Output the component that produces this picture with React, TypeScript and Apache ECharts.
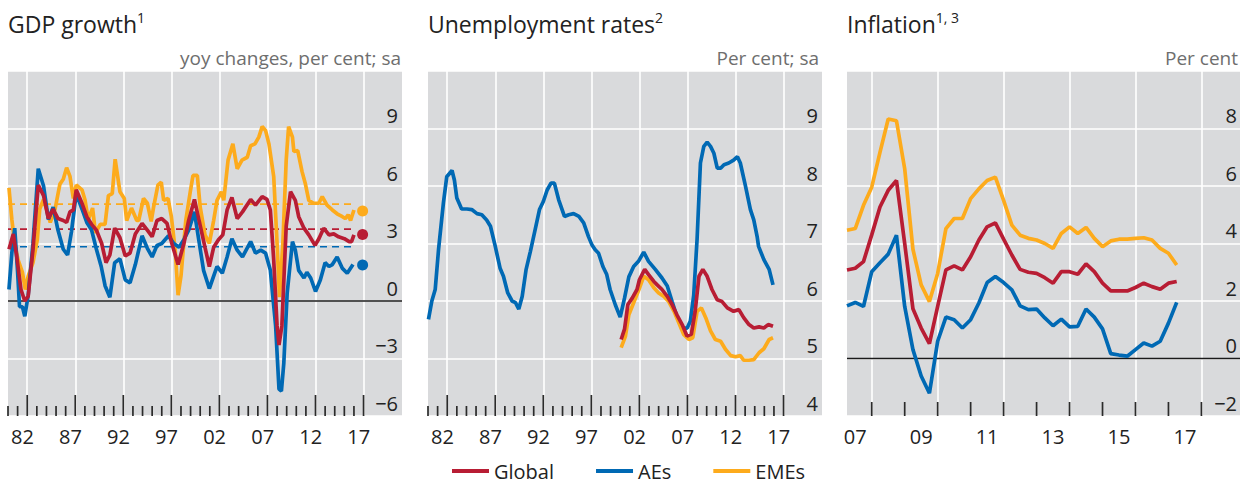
import React, { useEffect, useRef } from 'react';
import * as echarts from 'echarts';

const FONT = '"Open Sans", "Noto Sans", sans-serif';
const RED = '#b81d34';
const BLUE = '#0069b4';
const ORANGE = '#fdab1c';
const BG = '#d9dadc';
const INK = '#222222';
const TICK = '#2b2b2b';
const PLOT_H = 345;

// ---------- GDP growth (yoy, per cent) ----------
const gdpGlobal: [number, number][] = [
  [1981.1, 2.7], [1981.55, 3.5], [1981.9, 2.35], [1982.35, 0.6], [1982.75, 0.0], [1983.1, 0.25], [1983.6, 2.7],
  [1984.15, 6.05], [1984.7, 5.5], [1985.2, 4.3], [1985.7, 4.8], [1986.2, 4.3], [1986.75, 4.2], [1987.1, 4.1],
  [1987.45, 4.65], [1987.8, 4.75], [1988.1, 5.8], [1988.7, 5.1], [1989.2, 4.4], [1989.7, 4.0], [1990.2, 3.7],
  [1990.75, 3.0], [1991.2, 2.0], [1991.6, 2.4], [1992.1, 3.8], [1992.65, 3.3], [1993.2, 2.35], [1993.7, 2.5],
  [1994.25, 3.5], [1994.95, 4.05], [1995.5, 3.7], [1996.0, 3.35], [1996.5, 4.2], [1997.0, 4.3], [1997.55, 4.05],
  [1998.05, 3.0], [1998.7, 1.9], [1999.3, 3.0], [1999.8, 4.2], [2000.4, 5.3], [2000.95, 4.05], [2001.5, 2.8],
  [2001.95, 1.8], [2002.4, 2.8], [2002.9, 3.2], [2003.35, 3.45], [2003.8, 4.75], [2004.3, 5.4], [2004.85, 4.3],
  [2005.4, 4.65], [2006.25, 5.3], [2006.75, 5.0], [2007.45, 5.45], [2007.95, 5.3], [2008.3, 4.75], [2008.65, 2.15],
  [2009.0, -1.3], [2009.2, -2.3], [2009.5, -1.3], [2009.95, 3.9], [2010.4, 5.7], [2010.9, 5.25], [2011.25, 4.4],
  [2011.8, 3.8], [2012.3, 3.45], [2012.95, 2.9], [2013.35, 3.25], [2013.85, 3.8], [2014.4, 3.45], [2014.9, 3.5],
  [2015.4, 3.35], [2016.0, 3.25], [2016.5, 3.1], [2016.75, 3.1], [2017.0, 3.45],
];
const gdpAEs: [number, number][] = [
  [1981.1, 0.6], [1981.4, 2.5], [1981.7, 3.8], [1982.0, 1.5], [1982.2, -0.3], [1982.5, -0.3], [1982.75, -0.8],
  [1983.1, 0.3], [1983.6, 3.0], [1984.15, 6.9], [1984.7, 6.0], [1985.2, 4.25], [1985.7, 4.9], [1986.2, 3.7],
  [1986.75, 2.7], [1987.2, 2.4], [1987.6, 3.6], [1988.1, 5.6], [1988.7, 4.8], [1989.2, 4.1], [1989.7, 3.7],
  [1990.2, 2.7], [1990.7, 1.8], [1991.1, 0.8], [1991.6, 0.2], [1992.1, 2.0], [1992.65, 2.2], [1993.2, 1.1],
  [1993.7, 0.95], [1994.25, 1.9], [1994.95, 3.4], [1995.5, 2.75], [1996.0, 2.3], [1996.5, 2.9], [1997.0, 3.0],
  [1997.7, 3.4], [1998.25, 3.0], [1998.8, 2.8], [1999.3, 3.2], [1999.8, 3.7], [2000.4, 4.65], [2000.85, 3.2],
  [2001.35, 1.6], [2001.95, 0.65], [2002.4, 1.3], [2002.75, 1.8], [2003.3, 1.45], [2003.8, 2.3], [2004.3, 3.25],
  [2004.85, 2.65], [2005.4, 2.3], [2006.25, 3.1], [2006.75, 2.5], [2007.3, 2.65], [2007.8, 2.5], [2008.3, 1.6],
  [2008.85, -1.3], [2009.2, -4.6], [2009.45, -4.7], [2009.7, -3.25], [2010.05, 0.4], [2010.6, 3.1], [2010.9, 2.65],
  [2011.25, 1.6], [2011.8, 1.2], [2012.1, 1.5], [2012.5, 1.2], [2013.0, 0.5], [2013.5, 1.1], [2014.0, 2.0],
  [2014.4, 1.8], [2014.75, 1.9], [2015.25, 2.3], [2015.8, 1.7], [2016.3, 1.45], [2016.9, 1.9],
];
const gdpEMEs: [number, number][] = [
  [1981.1, 5.9], [1981.4, 4.25], [1981.7, 3.0], [1982.05, 2.15], [1982.5, 1.5], [1982.8, 0.6], [1983.1, 1.3],
  [1983.6, 2.0], [1984.05, 3.2], [1984.3, 4.8], [1984.7, 5.3], [1985.0, 4.8], [1985.4, 4.1], [1985.9, 4.8],
  [1986.4, 6.1], [1986.75, 6.35], [1987.1, 6.95], [1987.45, 6.5], [1987.8, 5.35], [1988.1, 6.05], [1988.7, 5.8],
  [1989.0, 5.3], [1989.35, 4.25], [1989.8, 4.85], [1990.1, 3.55], [1990.6, 4.0], [1991.1, 4.0], [1991.45, 5.5],
  [1991.85, 5.6], [1992.15, 7.4], [1992.65, 5.7], [1993.1, 5.35], [1993.35, 4.2], [1993.85, 4.85], [1994.4, 4.2],
  [1994.6, 4.2], [1995.1, 5.35], [1995.5, 5.1], [1995.9, 4.15], [1996.15, 4.9], [1996.6, 6.05], [1996.95, 6.2],
  [1997.2, 5.25], [1997.65, 5.35], [1998.0, 4.4], [1998.4, 2.65], [1998.7, 0.3], [1999.0, 1.3], [1999.5, 4.2],
  [2000.0, 5.8], [2000.25, 6.55], [2000.7, 6.55], [2001.0, 4.9], [2001.5, 3.45], [2001.95, 3.0], [2002.4, 4.2],
  [2002.75, 5.25], [2003.2, 5.7], [2003.45, 5.25], [2003.9, 7.35], [2004.4, 8.2], [2004.85, 6.9], [2005.35, 7.35],
  [2005.9, 7.5], [2006.25, 8.1], [2006.7, 8.2], [2007.1, 8.55], [2007.45, 9.1], [2007.8, 8.9], [2008.15, 8.2],
  [2008.65, 6.5], [2009.0, 3.0], [2009.25, 0.2], [2009.6, 3.0], [2009.95, 7.35], [2010.2, 9.1], [2010.6, 8.55],
  [2010.75, 7.8], [2011.15, 7.85], [2011.6, 6.75], [2011.95, 6.1], [2012.3, 5.25], [2012.8, 5.1], [2013.35, 5.1],
  [2013.7, 5.45], [2014.2, 5.0], [2014.75, 4.75], [2015.25, 4.55], [2015.8, 4.4], [2016.1, 4.3], [2016.4, 4.5],
  [2016.65, 4.2], [2017.0, 4.75],
];
// long-term averages (dashed) and latest forecast dots
const gdpAvgGlobal = 3.75;
const gdpAvgAEs = 2.83;
const gdpAvgEMEs = 5.05;
const gdpAvgStart = 1981;
const gdpAvgEnd = 2017;
const gdpForecastYear = 2017.9;
const gdpForecastGlobal = 3.47;
const gdpForecastAEs = 1.88;
const gdpForecastEMEs = 4.7;

// ---------- Unemployment rates (per cent) ----------
const unempAEs: [number, number][] = [
  [1981.05, 5.68], [1981.4, 6.0], [1981.75, 6.2], [1982.1, 6.9], [1982.6, 7.7], [1982.95, 8.16], [1983.5, 8.27],
  [1983.75, 8.1], [1984.0, 7.79], [1984.5, 7.6], [1985.05, 7.6], [1985.55, 7.59], [1986.1, 7.52], [1986.6, 7.5],
  [1987.1, 7.41], [1987.5, 7.3], [1988.0, 6.95], [1988.5, 6.57], [1988.85, 6.43], [1989.3, 6.14], [1989.75, 6.0],
  [1990.1, 5.97], [1990.45, 5.86], [1990.8, 6.08], [1991.2, 6.54], [1991.65, 6.86], [1992.15, 7.24], [1992.6, 7.59],
  [1993.0, 7.73], [1993.4, 7.93], [1993.8, 8.05], [1994.15, 8.05], [1994.6, 7.76], [1995.2, 7.47], [1995.65, 7.5],
  [1996.15, 7.52], [1996.7, 7.47], [1997.2, 7.36], [1997.7, 7.12], [1998.05, 6.98], [1998.4, 6.89], [1998.75, 6.83],
  [1999.2, 6.6], [1999.6, 6.46], [1999.95, 6.2], [2000.5, 5.93], [2001.0, 5.72], [2001.45, 6.05], [2001.9, 6.42],
  [2002.4, 6.6], [2002.9, 6.69], [2003.45, 6.85], [2003.95, 6.69], [2004.65, 6.55], [2005.35, 6.4], [2005.9, 6.26],
  [2006.4, 5.99], [2006.9, 5.73], [2007.45, 5.53], [2007.97, 5.53], [2008.3, 5.65], [2008.65, 6.1], [2009.0, 7.07],
  [2009.35, 8.4], [2009.7, 8.69], [2010.05, 8.76], [2010.4, 8.69], [2010.75, 8.57], [2011.1, 8.31], [2011.45, 8.31],
  [2011.8, 8.37], [2012.3, 8.4], [2012.8, 8.45], [2013.2, 8.51], [2013.5, 8.4], [2014.05, 7.99], [2014.55, 7.59],
  [2014.9, 7.41], [2015.25, 7.12], [2015.4, 6.95], [2015.95, 6.72], [2016.5, 6.55], [2016.9, 6.28],
];
const unempGlobal: [number, number][] = [
  [2001.1, 5.33], [2001.45, 5.51], [2001.8, 5.94], [2002.25, 6.05], [2002.75, 6.2], [2003.0, 6.37], [2003.55, 6.55],
  [2003.95, 6.46], [2004.5, 6.34], [2004.85, 6.28], [2005.35, 6.2], [2005.9, 6.08], [2006.4, 5.94], [2006.9, 5.76],
  [2007.45, 5.59], [2007.95, 5.39], [2008.4, 5.42], [2008.8, 5.82], [2009.2, 6.43], [2009.6, 6.55], [2010.05, 6.43],
  [2010.55, 6.2], [2011.1, 6.02], [2011.6, 5.99], [2012.15, 5.88], [2012.8, 5.82], [2013.35, 5.85], [2013.85, 5.71],
  [2014.4, 5.59], [2014.9, 5.53], [2015.45, 5.55], [2015.95, 5.53], [2016.4, 5.59], [2016.9, 5.56],
];
const unempEMEs: [number, number][] = [
  [2001.1, 5.19], [2001.55, 5.39], [2001.9, 5.76], [2002.4, 5.97], [2002.95, 6.2], [2003.45, 6.43], [2003.95, 6.37],
  [2004.5, 6.23], [2005.0, 6.14], [2005.55, 6.08], [2006.05, 5.99], [2006.6, 5.82], [2007.1, 5.62], [2007.6, 5.42],
  [2008.15, 5.33], [2008.55, 5.36], [2009.0, 5.82], [2009.45, 5.88], [2009.9, 5.71], [2010.4, 5.48], [2010.9, 5.33],
  [2011.45, 5.3], [2011.95, 5.16], [2012.5, 5.05], [2013.0, 5.03], [2013.5, 5.05], [2013.85, 4.97], [2014.4, 4.97],
  [2014.9, 4.98], [2015.45, 5.1], [2015.95, 5.17], [2016.5, 5.33], [2016.9, 5.36],
];

// ---------- Inflation (quarterly, per cent) ----------
const inflDates = [
  2007.25, 2007.5, 2007.75, 2008.0, 2008.25, 2008.5, 2008.75, 2009.0, 2009.25, 2009.5, 2009.75,
  2010.0, 2010.25, 2010.5, 2010.75, 2011.0, 2011.25, 2011.5, 2011.75, 2012.0, 2012.25, 2012.5,
  2012.75, 2013.0, 2013.25, 2013.5, 2013.75, 2014.0, 2014.25, 2014.5, 2014.75, 2015.0, 2015.25,
  2015.5, 2015.75, 2016.0, 2016.25, 2016.5, 2016.75, 2017.0, 2017.25,
];
const inflGlobal = [
  3.08, 3.14, 3.37, 4.3, 5.27, 5.85, 6.19, 4.0, 1.73, 1.06, 0.52,
  1.81, 3.08, 3.22, 3.08, 3.54, 4.12, 4.58, 4.72, 4.15, 3.6, 3.1,
  3.0, 2.96, 2.81, 2.62, 3.02, 3.02, 2.93, 3.29, 3.02, 2.62, 2.35,
  2.35, 2.35, 2.47, 2.62, 2.5, 2.41, 2.62, 2.68,
];
const inflAEs = [
  1.83, 1.95, 1.81, 3.02, 3.33, 3.63, 4.29, 1.81, 0.31, -0.61, -1.21,
  0.6, 1.44, 1.35, 1.06, 1.35, 1.93, 2.64, 2.85, 2.64, 2.39, 1.83,
  1.7, 1.72, 1.41, 1.14, 1.37, 1.1, 1.12, 1.72, 1.44, 1.03, 0.17,
  0.12, 0.08, 0.31, 0.54, 0.43, 0.6, 1.23, 1.95,
];
const inflEMEs = [
  4.46, 4.52, 5.33, 5.96, 7.17, 8.33, 8.27, 6.6, 3.8, 2.56, 1.98,
  2.96, 4.52, 4.87, 4.87, 5.56, 5.9, 6.19, 6.31, 5.5, 4.64, 4.29,
  4.18, 4.12, 4.0, 3.83, 4.35, 4.58, 4.35, 4.56, 4.18, 3.89, 4.09,
  4.15, 4.15, 4.18, 4.2, 4.12, 3.83, 3.66, 3.25,
];

// ---------- axis labels ----------
const longLabelYears = [1982, 1987, 1992, 1997, 2002, 2007, 2012, 2017];
const shortLabelYears = [2007, 2009, 2011, 2013, 2015, 2017];

const LONG_MIN = 1981;
const LONG_MAX = 2022;
const SHORT_MIN = 2007.25;
const SHORT_MAX = 2019.17;

const yr2 = (v: number) => String(Math.floor(v)).slice(2);
const minus = (v: number) => String(v).replace('-', '\u2212');
const pair = (xs: number[], ys: number[]) => xs.map((x, i) => [x, ys[i]]);

function range(a: number, b: number, step: number) {
  const out: number[] = [];
  for (let v = a; v <= b + 1e-9; v += step) out.push(v);
  return out;
}

function buildOption() {
  const gridBase = { top: 71, height: PLOT_H, show: true, backgroundColor: BG, borderWidth: 0, containLabel: false };
  const grids = [
    { ...gridBase, left: 8, width: 394 },
    { ...gridBase, left: 428, width: 394 },
    { ...gridBase, left: 847, width: 393 },
  ];

  const labelStyle = { fontFamily: FONT, fontSize: 20, color: INK };
  const hiddenLine = { show: false, onZero: false };

  const longGrid = longLabelYears.map((y) => y + 1);
  const longLabelPos = longLabelYears.map((y) => y + 0.5);
  const longTicks = range(LONG_MIN, 2018, 1);
  const shortGrid = shortLabelYears.map((y) => y + 1);
  const shortLabelPos = shortLabelYears.map((y) => y + 0.5);
  const shortTicks = range(2008, 2018, 1);

  const xAxisFor = (gridIndex: number, min: number, max: number, gridVals: number[], labelVals: number[]) => ({
    type: 'value', gridIndex, position: 'bottom', min, max, z: 0,
    axisLine: hiddenLine,
    axisTick: { show: false, customValues: gridVals },
    axisLabel: { ...labelStyle, margin: 10, customValues: labelVals, formatter: (v: number) => yr2(v) },
    splitLine: { show: true, lineStyle: { color: '#ffffff', width: 1.6 } },
  });
  const xAxis = [
    xAxisFor(0, LONG_MIN, LONG_MAX, longGrid, longLabelPos),
    xAxisFor(1, LONG_MIN, LONG_MAX, longGrid, longLabelPos),
    xAxisFor(2, SHORT_MIN, SHORT_MAX, shortGrid, shortLabelPos),
  ];

  const yRanges = [[-6, 12, 3], [4, 10, 1], [-2, 10, 2]];
  const yBase = (gridIndex: number, margin: number) => ({
    type: 'value', gridIndex, position: 'right', z: 0,
    min: yRanges[gridIndex][0], max: yRanges[gridIndex][1], interval: yRanges[gridIndex][2],
    axisLine: hiddenLine, axisTick: { show: false },
    axisLabel: {
      ...labelStyle, inside: true, margin, verticalAlign: 'bottom', padding: [0, 0, 3, 0],
      showMaxLabel: false, showMinLabel: true, formatter: (v: number) => minus(v),
    },
    splitLine: { show: true, lineStyle: { color: '#ffffff', width: 1.6 } },
  });
  const yAxis = [yBase(0, 4), yBase(1, 4), yBase(2, 3)];

  // tick marks: each a short vertical segment rising from the panel's bottom edge
  const tickSeries = (gi: number, xs: number[], majors: number[], majorPx: number, minorPx: number) => {
    const [ymin, ymax] = yRanges[gi];
    const perPx = (ymax - ymin) / PLOT_H;
    return xs.map((x) => ({
      name: 'tick', type: 'line', xAxisIndex: gi, yAxisIndex: gi, silent: true, z: 8, clip: false,
      showSymbol: false, symbol: 'none',
      lineStyle: { color: TICK, width: 1.7 },
      data: [[x, ymin], [x, ymin + (majors.includes(x) ? majorPx : minorPx) * perPx]],
    }));
  };

  const line = (name: string, color: string, gi: number, data: any[]) => ({
    name, type: 'line', xAxisIndex: gi, yAxisIndex: gi, data, showSymbol: false, symbol: 'none',
    lineStyle: { color, width: 3.7 }, itemStyle: { color }, z: 3, silent: true, clip: true,
  });
  const dashed = (name: string, color: string, v: number) => ({
    name, type: 'line', xAxisIndex: 0, yAxisIndex: 0, data: [[gdpAvgStart, v], [gdpAvgEnd, v]],
    showSymbol: false, symbol: 'none', lineStyle: { color, width: 1.7, type: [7, 5] }, z: 2, silent: true,
  });
  const zero = (gi: number, x0: number, x1: number) => ({
    name: 'zero', type: 'line', xAxisIndex: gi, yAxisIndex: gi, data: [[x0, 0], [x1, 0]],
    showSymbol: false, symbol: 'none', lineStyle: { color: '#1a1a1a', width: 1.3 }, z: 1, silent: true,
  });

  const series: any[] = [
    zero(0, LONG_MIN, LONG_MAX),
    dashed('EMEs average', ORANGE, gdpAvgEMEs),
    dashed('Global average', RED, gdpAvgGlobal),
    dashed('AEs average', BLUE, gdpAvgAEs),
    line('EMEs', ORANGE, 0, gdpEMEs),
    line('AEs', BLUE, 0, gdpAEs),
    line('Global', RED, 0, gdpGlobal),
    {
      name: 'forecast', type: 'scatter', xAxisIndex: 0, yAxisIndex: 0, symbolSize: 11, z: 4, silent: true,
      itemStyle: { opacity: 1 },
      data: [
        { value: [gdpForecastYear, gdpForecastEMEs], itemStyle: { color: ORANGE, opacity: 1 } },
        { value: [gdpForecastYear, gdpForecastGlobal], itemStyle: { color: RED, opacity: 1 } },
        { value: [gdpForecastYear, gdpForecastAEs], itemStyle: { color: BLUE, opacity: 1 } },
      ],
    },
    line('AEs', BLUE, 1, unempAEs),
    line('EMEs', ORANGE, 1, unempEMEs),
    line('Global', RED, 1, unempGlobal),
    zero(2, SHORT_MIN, SHORT_MAX),
    line('EMEs', ORANGE, 2, pair(inflDates, inflEMEs)),
    line('AEs', BLUE, 2, pair(inflDates, inflAEs)),
    line('Global', RED, 2, pair(inflDates, inflGlobal)),
    ...tickSeries(0, longTicks, longGrid, 21, 10),
    ...tickSeries(1, longTicks, longGrid, 21, 10),
    ...tickSeries(2, shortTicks, shortTicks, 14, 14),
  ];

  const titleRich = {
    a: { fontFamily: FONT, fontSize: 23, color: INK, fontWeight: 'normal', lineHeight: 28 },
    b: { fontFamily: FONT, fontSize: 14, color: INK, fontWeight: 'normal', lineHeight: 21, verticalAlign: 'top' },
  };
  const subStyle = { fontFamily: FONT, fontSize: 19, color: '#6e6e6e', fontWeight: 'normal', lineHeight: 22 };
  const title = [
    { text: '{a|GDP growth}{b|1}', left: 8, top: 10, padding: 0, textStyle: { rich: titleRich } },
    { text: '{a|Unemployment rates}{b|2}', left: 428, top: 10, padding: 0, textStyle: { rich: titleRich } },
    { text: '{a|Inflation}{b|1, 3}', left: 847, top: 10, padding: 0, textStyle: { rich: titleRich } },
    { text: 'yoy changes, per cent; sa', right: 844, top: 47, padding: 0, textStyle: subStyle },
    { text: 'Per cent; sa', right: 426, top: 47, padding: 0, textStyle: subStyle },
    { text: 'Per cent', right: 7, top: 47, padding: 0, textStyle: subStyle },
  ];

  return {
    animation: false,
    backgroundColor: '#ffffff',
    textStyle: { fontFamily: FONT },
    title,
    grid: grids,
    xAxis,
    yAxis,
    legend: {
      data: ['Global', 'AEs', 'EMEs'],
      left: 452, top: 461, padding: 0,
      icon: 'rect', itemWidth: 37, itemHeight: 4, itemGap: 42,
      selectedMode: false,
      textStyle: { fontFamily: FONT, fontSize: 20, color: INK },
    },
    series,
  };
}

export default function App() {
  const ref = useRef<HTMLDivElement>(null);
  useEffect(() => {
    if (!ref.current) return;
    const chart = echarts.init(ref.current, null, { renderer: 'svg' });
    chart.setOption(buildOption() as any);
    return () => chart.dispose();
  }, []);
  return (
    <div
      ref={ref}
      style={{ position: 'absolute', left: 0, top: 0, width: 1245, height: 483 }}
    />
  );
}
